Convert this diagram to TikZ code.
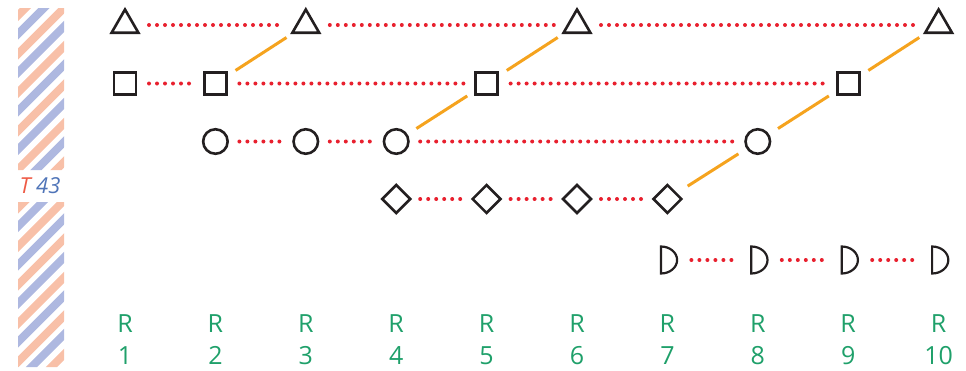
\documentclass[tikz,border=0pt]{standalone}
\usepackage{fontspec}
\setmainfont{Open Sans}
\usetikzlibrary{positioning,shapes.geometric}

\definecolor{ink}{HTML}{231F20}
\definecolor{dotred}{HTML}{E8202E}
\definecolor{linkorange}{HTML}{F5A31E}
\definecolor{rgreen}{HTML}{1FA06A}
\definecolor{stripepink}{HTML}{F8C0A8}
\definecolor{stripeblue}{HTML}{AEB8E0}
\definecolor{tagred}{HTML}{EE5A45}
\definecolor{tagblue}{HTML}{4F74B8}

\begin{document}
\begin{tikzpicture}[x=1pt,y=-1pt,node distance=90.4pt,on grid]
	\tikzstyle{fig}=[draw=ink,line width=2.6pt,inner sep=0pt]
	\tikzstyle{tri}=[fig,regular polygon,regular polygon sides=3,minimum size=31pt]
	\tikzstyle{sq}=[fig,rectangle,minimum size=22pt]
	\tikzstyle{circ}=[fig,circle,minimum size=24.5pt]
	\tikzstyle{dia}=[fig,diamond,minimum size=29pt]
	\tikzstyle{half}=[fig,semicircle,rotate=-90,yscale=1.2,minimum size=13.5pt,line width=2.2pt]
	\tikzstyle{dots}=[draw=dotred,line width=4pt,line cap=round,dash pattern=on 0pt off 8pt,shorten <=24pt,shorten >=21pt]
	\tikzstyle{link}=[draw=linkorange,line width=3pt,shorten <=24pt,shorten >=23pt]
	\tikzstyle{rlabel}=[text=rgreen,font=\fontsize{25}{32}\selectfont,align=center]

	\useasboundingbox (0,0) rectangle (966,370);

	% striped band on the left
	\begin{scope}
		\clip (18,8) rectangle (64,170) (18,202) rectangle (64,367);
		\foreach \c in {-5,33.5,...,440} {
			\draw[stripepink,line width=8pt] (\c,0) -- ++(-400,400);
			\draw[stripeblue,line width=8pt] ({\c+18.5},0) -- ++(-400,400);
		}
	\end{scope}
	\node[font=\fontsize{22}{26}\selectfont\itshape] (tag) at (40,186) {\textcolor{tagred}{T} \textcolor{tagblue}{43}};

	\node[tri] (T1) at (125,25) {};
	\node[sq] (S1) [below=58.5pt of T1] {};
	\node[sq] (S2) [right=of S1] {};
	\node[tri] (T3) [above right=58.5pt and 90.4pt of S2] {};
	\node[circ] (C2) [below=58pt of S2] {};
	\node[circ] (C3) [right=of C2] {};
	\node[circ] (C4) [right=of C3] {};
	\node[sq] (S5) [above right=58pt and 90.4pt of C4] {};
	\node[tri] (T6) [above right=58.5pt and 90.4pt of S5] {};
	\node[dia] (M4) [below=57.5pt of C4] {};
	\node[dia] (M5) [right=of M4] {};
	\node[dia] (M6) [right=of M5] {};
	\node[dia] (M7) [right=of M6] {};
	\node[circ] (C8) [above right=57.5pt and 90.4pt of M7] {};
	\node[sq] (S9) [above right=58pt and 90.4pt of C8] {};
	\node[tri] (T10) [above right=58.5pt and 90.4pt of S9] {};
	\node[half] (H7) [below=61pt of M7] {};
	\node[half] (H8) [right=of H7] {};
	\node[half] (H9) [right=of H8] {};
	\node[half] (H10) [right=of H9] {};

	\foreach \i in {1,...,10}
		\node[rlabel] (R\i) at ({125+90.4*(\i-1)},340) {R\\\i};

	\path[dots] (T1.center) edge (T3.center)
				(T3.center) edge (T6.center)
				(T6.center) edge (T10.center)
				(S1.center) edge (S2.center)
				(S2.center) edge (S5.center)
				(S5.center) edge (S9.center)
				(C2.center) edge (C3.center)
				(C3.center) edge (C4.center)
				(C4.center) edge (C8.center)
				(M4.center) edge (M5.center)
				(M5.center) edge (M6.center)
				(M6.center) edge (M7.center)
				(H7.center) edge (H8.center)
				(H8.center) edge (H9.center)
				(H9.center) edge (H10.center);

	\path[link] (S2.center) edge (T3.center)
				(S5.center) edge (T6.center)
				(S9.center) edge (T10.center)
				(C4.center) edge (S5.center)
				(C8.center) edge (S9.center)
				(M7.center) edge (C8.center);
\end{tikzpicture}
\end{document}
